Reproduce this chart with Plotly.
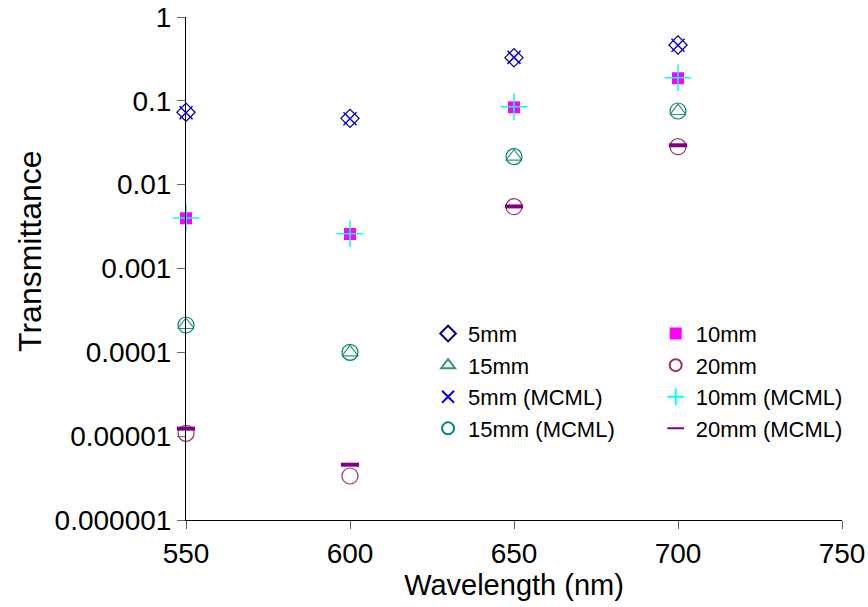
import plotly.graph_objects as go

wavelength = [550, 600, 650, 700]
t_5mm = [0.073, 0.0618, 0.327, 0.463]
t_10mm = [0.00397, 0.00258, 0.0836, 0.186]
t_15mm = [0.000212, 0.0001, 0.0216, 0.0756]
t_20mm = [1.08e-5, 3.35e-6, 0.00546, 0.0284]
t_5mm_mcml = [0.072, 0.061, 0.33, 0.46]
t_10mm_mcml = [0.0040, 0.0026, 0.085, 0.188]
t_15mm_mcml = [0.000212, 0.0001, 0.0216, 0.0756]
t_20mm_mcml = [1.23e-5, 4.57e-6, 0.0055, 0.0295]

y_ticks = [1e-6, 1e-5, 1e-4, 1e-3, 1e-2, 1e-1, 1]
y_ticktext = ["0.000001", "0.00001", "0.0001", "0.001", "0.01", "0.1", "1"]
x_ticks = [550, 600, 650, 700, 750]

FONT = "Arial, Liberation Sans, sans-serif"

series = [
    ("5mm", t_5mm, "legend", dict(symbol="diamond-open", size=14, color="#000080", line=dict(width=1.2, color="#000080"))),
    ("10mm", t_10mm, "legend2", dict(symbol="square", size=12, color="#FF00FF", line=dict(width=0))),
    ("15mm", t_15mm, "legend", dict(symbol="triangle-up-open", size=14, color="#339966", line=dict(width=1.2, color="#339966"))),
    ("20mm", t_20mm, "legend2", dict(symbol="circle-open", size=16, color="#993366", line=dict(width=1.2, color="#993366"))),
    ("5mm (MCML)", t_5mm_mcml, "legend", dict(symbol="x-thin", size=13, color="#0000FF", line=dict(width=1.5, color="#0000FF"))),
    ("10mm (MCML)", t_10mm_mcml, "legend2", dict(symbol="cross-thin", size=19, color="#00FFFF", line=dict(width=1.5, color="#00FFFF"))),
    ("15mm (MCML)", t_15mm_mcml, "legend", dict(symbol="circle-open", size=16, color="#008080", line=dict(width=1.2, color="#008080"))),
    ("20mm (MCML)", t_20mm_mcml, "legend2", dict(symbol="line-ew", size=13, color="#800080", line=dict(width=4, color="#800080"))),
]

fig = go.Figure()
for name, vals, lg, marker in series:
    fig.add_trace(go.Scatter(x=wavelength, y=vals, mode="markers", name=name,
                             legend=lg, marker=marker, cliponaxis=False))

legend_common = dict(
    orientation="v", xanchor="left", yanchor="top",
    font=dict(family=FONT, size=22, color="black"),
    bgcolor="rgba(0,0,0,0)", itemsizing="constant", tracegroupgap=0,
)

fig.update_layout(
    width=868, height=607,
    margin=dict(l=186, r=26, t=17, b=87, autoexpand=False),
    paper_bgcolor="white", plot_bgcolor="white",
    font=dict(family=FONT, color="black", size=22),
    showlegend=True,
    legend=dict(x=0.369, y=0.412, **legend_common),
    legend2=dict(x=0.716, y=0.412, **legend_common),
    xaxis=dict(
        range=[550, 750], tickmode="array", tickvals=x_ticks,
        showgrid=False, zeroline=False, showline=True, linecolor="black", linewidth=1,
        ticks="outside", ticklen=8, tickcolor="#666666", automargin=False,
        tickfont=dict(family=FONT, size=28),
        title=dict(text="Wavelength (nm)", font=dict(family=FONT, size=29), standoff=6),
    ),
    yaxis=dict(
        type="log", range=[-6, 0], tickmode="array", tickvals=y_ticks, ticktext=y_ticktext,
        showgrid=False, zeroline=False, showline=True, linecolor="black", linewidth=1,
        ticks="outside", ticklen=8, tickcolor="#666666", automargin=False,
        tickfont=dict(family=FONT, size=28),
    ),
    annotations=[dict(
        text="Transmittance", textangle=-90, xref="paper", yref="paper",
        x=-0.237, y=0.534, xanchor="center", yanchor="middle", showarrow=False,
        font=dict(family=FONT, size=32, color="black"),
    )],
)

fig.write_html("out.html")
